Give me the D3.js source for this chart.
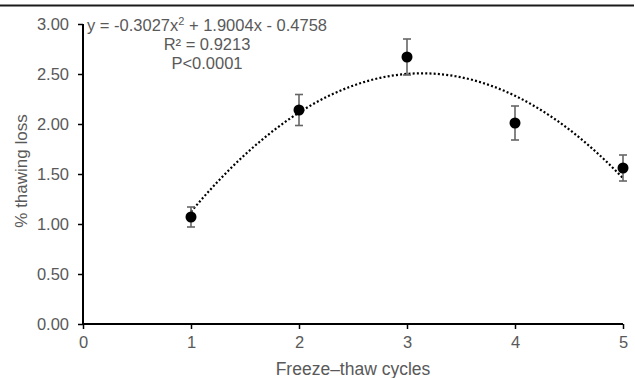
<!DOCTYPE html>
<html>
<head>
<meta charset="utf-8">
<script src="https://cdn.jsdelivr.net/npm/d3@7"></script>
<style>
  body { margin: 0; background: #fff; }
  text { font-family: "Liberation Sans", Arial, sans-serif; }
</style>
</head>
<body>
<div class="graph"></div>
<script>
// data
var cycles = [1, 2, 3, 4, 5];
var thawLoss = [1.07, 2.14, 2.67, 2.01, 1.56];
var stdErr = [0.10, 0.155, 0.18, 0.17, 0.13];
var xTicks = [0, 1, 2, 3, 4, 5];
var yTicks = [0, 0.5, 1, 1.5, 2, 2.5, 3];
var fitCoef = [-0.3027, 1.9004, -0.4758];

var width = 635, height = 378;
var grey = "#595959";

var svg = d3.select(".graph").append("svg")
    .attr("width", width)
    .attr("height", height);

// top border rule
svg.append("line")
    .attr("x1", 0).attr("x2", 634)
    .attr("y1", 5.5).attr("y2", 5.5)
    .attr("stroke", "#1a1a1a")
    .attr("stroke-width", 2);

var x = d3.scaleLinear().domain([0, 5]).range([83, 623]);
var y = d3.scaleLinear().domain([0, 3]).range([324, 24]);

var xAxis = svg.append("g")
    .attr("transform", "translate(0," + y(0) + ")")
    .call(d3.axisBottom(x).tickValues(xTicks).tickSize(5).tickPadding(7).tickFormat(d3.format("d")));

var yAxis = svg.append("g")
    .attr("transform", "translate(" + x(0) + ",0)")
    .call(d3.axisLeft(y).tickValues(yTicks).tickSize(5).tickPadding(9).tickFormat(d3.format(".2f")));

[xAxis, yAxis].forEach(function (g) {
    g.select(".domain").attr("stroke", "#000").attr("stroke-width", 2);
    g.selectAll(".tick line").attr("stroke", "#000").attr("stroke-width", 1.5);
    g.selectAll(".tick text")
        .attr("fill", grey)
        .style("font-size", "16.5px")
        .style("font-family", "Liberation Sans, Arial, sans-serif");
});
xAxis.select(".domain").attr("d", "M" + x(0) + ",0H" + x(5));
yAxis.select(".domain").attr("d", "M0," + y(3) + "V" + y(0));

// axis titles
svg.append("text")
    .attr("x", (x(0) + x(5)) / 2)
    .attr("y", 375)
    .attr("text-anchor", "middle")
    .attr("fill", grey)
    .style("font-size", "17.5px")
    .text("Freeze–thaw cycles");

svg.append("text")
    .attr("transform", "translate(27," + 171 + ") rotate(-90)")
    .attr("text-anchor", "middle")
    .attr("fill", grey)
    .style("font-size", "17px")
    .text("% thawing loss");

// polynomial trend line
var fit = function (c) { return fitCoef[0] * c * c + fitCoef[1] * c + fitCoef[2]; };
var curve = d3.range(1, 5.001, 0.05).map(function (c) { return [c, fit(c)]; });
svg.append("path")
    .datum(curve)
    .attr("fill", "none")
    .attr("stroke", "#000")
    .attr("stroke-width", 2.2)
    .attr("stroke-dasharray", "2,2.2")
    .attr("d", d3.line().x(function (d) { return x(d[0]); }).y(function (d) { return y(d[1]); }));

// error bars
var pts = cycles.map(function (c, i) { return { c: c, v: thawLoss[i], e: stdErr[i] }; });
var eb = svg.selectAll(".eb").data(pts).enter().append("g").attr("class", "eb")
    .attr("stroke", "#666").attr("stroke-width", 1.6);
eb.append("line")
    .attr("x1", function (d) { return x(d.c); }).attr("x2", function (d) { return x(d.c); })
    .attr("y1", function (d) { return y(d.v + d.e); }).attr("y2", function (d) { return y(d.v - d.e); });
eb.append("line")
    .attr("x1", function (d) { return x(d.c) - 4; }).attr("x2", function (d) { return x(d.c) + 4; })
    .attr("y1", function (d) { return y(d.v + d.e); }).attr("y2", function (d) { return y(d.v + d.e); });
eb.append("line")
    .attr("x1", function (d) { return x(d.c) - 4; }).attr("x2", function (d) { return x(d.c) + 4; })
    .attr("y1", function (d) { return y(d.v - d.e); }).attr("y2", function (d) { return y(d.v - d.e); });

// points
svg.selectAll(".dot").data(pts).enter().append("circle")
    .attr("class", "dot")
    .attr("cx", function (d) { return x(d.c); })
    .attr("cy", function (d) { return y(d.v); })
    .attr("r", 5.5)
    .attr("fill", "#000");

// equation label
var eq = svg.append("text")
    .attr("x", 207).attr("y", 31)
    .attr("text-anchor", "middle")
    .attr("fill", grey)
    .style("font-size", "16.5px");
eq.append("tspan").text("y = -0.3027x");
eq.append("tspan").attr("dy", -6).style("font-size", "11px").text("2");
eq.append("tspan").attr("dy", 6).text(" + 1.9004x - 0.4758");

svg.append("text")
    .attr("x", 207).attr("y", 50)
    .attr("text-anchor", "middle")
    .attr("fill", grey)
    .style("font-size", "16.5px")
    .text("R² = 0.9213");

svg.append("text")
    .attr("x", 207).attr("y", 69)
    .attr("text-anchor", "middle")
    .attr("fill", grey)
    .style("font-size", "16.5px")
    .text("P<0.0001");
</script>
</body>
</html>
